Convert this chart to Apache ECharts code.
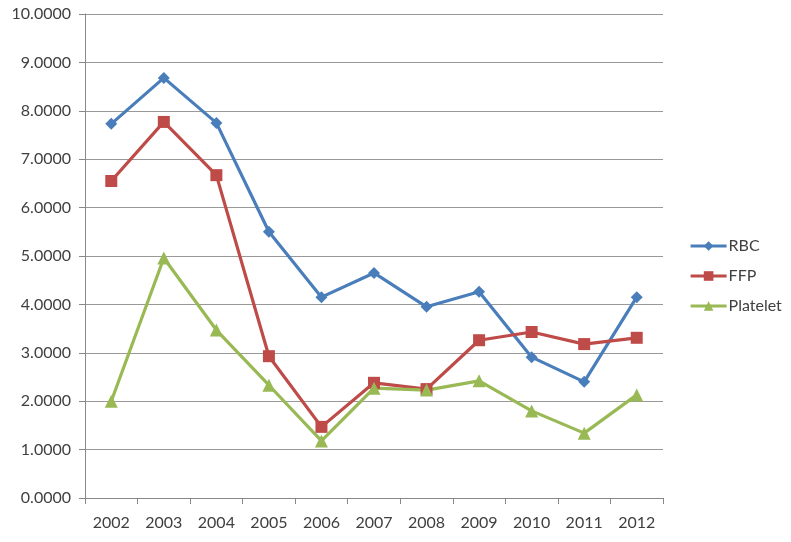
<!DOCTYPE html>
<html>
<head>
<meta charset="utf-8">
<script src="https://cdn.jsdelivr.net/npm/echarts@6/dist/echarts.min.js"></script>
<style>
  html, body { margin: 0; padding: 0; background: #fff; }
  #chart { width: 791px; height: 542px; }
</style>
</head>
<body>
<div id="chart"></div>
<script>
// years on the x axis
const years = ['2002', '2003', '2004', '2005', '2006', '2007', '2008', '2009', '2010', '2011', '2012'];
// series values
const rbc = [7.73, 8.68, 7.75, 5.50, 4.15, 4.65, 3.95, 4.26, 2.91, 2.40, 4.15];
const ffp = [6.55, 7.77, 6.67, 2.93, 1.47, 2.38, 2.25, 3.26, 3.43, 3.18, 3.31];
const platelet = [2.00, 4.96, 3.47, 2.33, 1.18, 2.27, 2.23, 2.42, 1.80, 1.34, 2.13];

const font = 'Lato, "Open Sans", sans-serif';
const chart = echarts.init(document.getElementById('chart'));

const mkSeries = (name, data, color, symbol, size) => ({
  name: name,
  type: 'line',
  data: data,
  symbol: symbol,
  symbolSize: size,
  lineStyle: { color: color, width: 3.2 },
  itemStyle: { color: color },
  emphasis: { disabled: true },
  animation: false
});

chart.setOption({
  backgroundColor: '#fff',
  grid: { left: 85, right: 128, top: 14, bottom: 44 },
  legend: {
    orient: 'vertical',
    left: 684,
    top: 233,
    itemWidth: 36,
    itemHeight: 12,
    itemGap: 14,
    lineStyle: { width: 3.2 },
    textStyle: { fontFamily: font, fontSize: 16, color: '#404040', padding: [0, 0, 0, -3] },
    data: ['RBC', 'FFP', 'Platelet']
  },
  xAxis: {
    type: 'category',
    data: years,
    boundaryGap: true,
    axisLine: { lineStyle: { color: '#888', width: 1 } },
    axisTick: { show: true, length: 6, lineStyle: { color: '#888' } },
    axisLabel: { fontFamily: font, fontSize: 16, color: '#404040', margin: 17 }
  },
  yAxis: {
    type: 'value',
    min: 0,
    max: 10,
    interval: 1,
    axisLine: { show: true, lineStyle: { color: '#888' } },
    axisTick: { show: true, length: 6, lineStyle: { color: '#888' } },
    splitLine: { lineStyle: { color: '#999', width: 1 } },
    axisLabel: {
      fontFamily: font, fontSize: 16, color: '#404040', margin: 14,
      formatter: v => v.toFixed(4)
    }
  },
  series: [
    mkSeries('RBC', rbc, '#4A7EBB', 'diamond', 12),
    mkSeries('FFP', ffp, '#BE4B48', 'rect', 12),
    mkSeries('Platelet', platelet, '#98B954', 'triangle', 13)
  ]
});
</script>
</body>
</html>
